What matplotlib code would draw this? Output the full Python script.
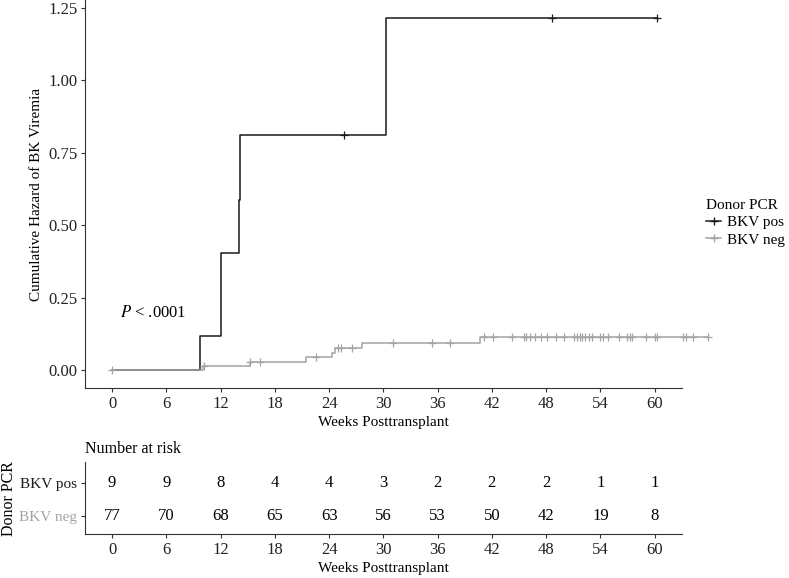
import numpy as np
import matplotlib
matplotlib.use("Agg")
import matplotlib.pyplot as plt
from matplotlib.lines import Line2D

plt.rcParams['font.family'] = ['Liberation Serif', 'DejaVu Serif']
plt.rcParams['font.size'] = 11
plt.rcParams['mathtext.fontset'] = 'stix'

# cumulative hazard steps
pos_t = [9.7, 12.0, 12.1, 14.0, 14.15, 30.3]
pos_h = [0.118, 0.251, 0.405, 0.588, 0.811, 1.216]
pos_cens = [25.7, 48.6, 60.3]

neg_t = [10.1, 15.2, 21.4, 24.3, 24.7, 27.6, 40.7]
neg_h = [0.013, 0.029, 0.044, 0.060, 0.077, 0.094, 0.115]
neg_cens = [0, 10.2, 15.3, 16.4, 22.6, 25.0, 25.3, 26.5, 31.1, 35.4, 37.4,
            41.1, 42.1, 44.2, 45.6, 45.8, 46.2, 46.8, 47.4, 48.1, 49.1, 50.0,
            51.1, 51.4, 51.7, 52.0, 52.3, 52.7, 53.1, 54.0, 54.3, 54.9, 56.1,
            57.0, 57.3, 57.5, 59.0, 60.0, 60.3, 63.1, 63.5, 64.3, 65.9]

# number at risk
risk_t = [0, 6, 12, 18, 24, 30, 36, 42, 48, 54, 60]
risk_pos = [9, 9, 8, 4, 4, 3, 2, 2, 2, 1, 1]
risk_neg = [77, 70, 68, 65, 63, 56, 53, 50, 42, 19, 8]

c_pos = '#1a1a1a'
c_neg = '#a3a3a3'
c_ax = '#333333'

fig = plt.figure(figsize=(7.89, 5.78), dpi=100)
ax = fig.add_axes([0.1077, 0.3287, 0.7563, 0.6713])
axr = fig.add_axes([0.1077, 0.0761, 0.7563, 0.124])


def step_curve(ax, t, h, cens, col):
    t_end = max(cens)
    xs = np.concatenate([[0], t, [t_end]])
    ys = np.concatenate([[0], h, [h[-1]]])
    ax.step(xs, ys, where='post', color=col, lw=1.1, clip_on=False)
    idx = np.searchsorted(t, cens, side='right')
    yc = np.concatenate([[0], h])[idx]
    ax.plot(cens, yc, ls='none', marker='+', ms=5.5, mew=0.9, color=col,
            clip_on=False)


step_curve(ax, pos_t, pos_h, pos_cens, c_pos)
step_curve(ax, neg_t, neg_h, neg_cens, c_neg)

ax.set_xlim(-3, 63)
ax.set_ylim(-0.0625, 1.2775)
ax.set_xticks(risk_t)
ax.set_yticks([0, 0.25, 0.5, 0.75, 1.0, 1.25])
ax.set_yticklabels(['0.00', '0.25', '0.50', '0.75', '1.00', '1.25'])
ax.set_xlabel('Weeks Posttransplant', labelpad=3)
ax.set_ylabel('Cumulative Hazard of BK Viremia', labelpad=4)
ax.text(4.5, 0.197, r'$P$ < .0001', ha='center', va='center', fontsize=12)

for a in (ax, axr):
    a.spines['top'].set_visible(False)
    a.spines['right'].set_visible(False)
    a.spines['left'].set_color(c_ax)
    a.spines['bottom'].set_color(c_ax)
    a.tick_params(colors=c_ax, labelcolor='#222222', length=3, width=0.8,
                  pad=2.5, labelsize=12)

# legend
handles = [Line2D([], [], color=c_pos, marker='+', ms=6, lw=1.1),
           Line2D([], [], color=c_neg, marker='+', ms=6, lw=1.1)]
leg = fig.legend(handles, ['BKV pos', 'BKV neg'], title='Donor PCR',
                 loc='center left', bbox_to_anchor=(0.893, 0.615),
                 frameon=False, handlelength=1.0, handletextpad=0.4,
                 labelspacing=0.25, fontsize=11, title_fontsize=11,
                 borderaxespad=0, borderpad=0.1)
leg._legend_box.align = 'left'

# risk table
for i, (p, n) in enumerate(zip(risk_pos, risk_neg)):
    axr.text(risk_t[i], 2, str(p), ha='center', va='center', fontsize=12)
    axr.text(risk_t[i], 1, str(n), ha='center', va='center', fontsize=12)
axr.set_xlim(-3, 63)
axr.set_ylim(0.46, 2.61)
axr.set_xticks(risk_t)
axr.set_yticks([1, 2])
axr.set_yticklabels(['BKV neg', 'BKV pos'])
axr.get_yticklabels()[0].set_color(c_neg)
axr.get_yticklabels()[1].set_color(c_pos)
axr.tick_params(axis='y', labelsize=11)
axr.set_xlabel('Weeks Posttransplant', labelpad=3)
fig.text(0.011, 0.1375, 'Donor PCR', rotation=90, ha='center', va='center',
         fontsize=11.5)
axr.set_title('Number at risk', loc='left', x=0.0, pad=7, fontsize=11.5)

fig.savefig('out.png', dpi=100)
